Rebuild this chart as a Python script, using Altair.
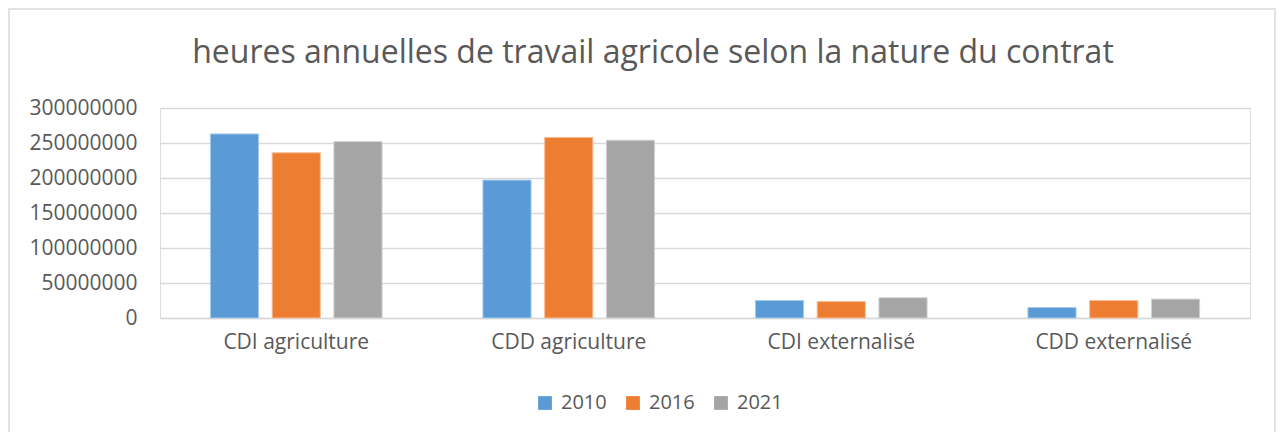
import altair as alt
import pandas as pd

categories = ["CDI agriculture", "CDD agriculture", "CDI externalisé", "CDD externalisé"]
years = ["2010", "2016", "2021"]
values_2010 = [263000000, 197000000, 25000000, 15000000]
values_2016 = [236000000, 258000000, 23500000, 25000000]
values_2021 = [252000000, 254000000, 29000000, 27000000]
colors = ["#5B9BD5", "#ED7D31", "#A5A5A5"]

rows = []
for y, vals in zip(years, [values_2010, values_2016, values_2021]):
    for c, v in zip(categories, vals):
        rows.append({"cat": c, "year": y, "value": v})
df = pd.DataFrame(rows)

FONT = "Open Sans"
TXT = "#595959"

bars = alt.Chart(df).mark_bar(strokeWidth=1).encode(
    x=alt.X("cat:N", sort=categories, title=None,
            scale=alt.Scale(paddingInner=0.37, paddingOuter=0.185),
            axis=alt.Axis(labelAngle=0, ticks=False, domainColor="#D9D9D9", domainWidth=1.5,
                          labelPadding=13, labelFontSize=21, labelColor=TXT, labelFont=FONT)),
    xOffset=alt.XOffset("year:N", sort=years, scale=alt.Scale(paddingInner=0.22, paddingOuter=0)),
    y=alt.Y("value:Q", title=None,
            scale=alt.Scale(domain=[0, 300000000], nice=False),
            axis=alt.Axis(values=[0, 50000000, 100000000, 150000000, 200000000, 250000000, 300000000],
                          format="d", ticks=False, domain=False, labelPadding=23,
                          labelFontSize=21, labelColor=TXT, labelFont=FONT,
                          gridColor="#D9D9D9", gridWidth=1.5)),
    color=alt.Color("year:N", sort=years, scale=alt.Scale(domain=years, range=colors),
                    legend=alt.Legend(title=None, orient="none", direction="horizontal",
                                      legendX=375, legendY=285, symbolType="square", symbolSize=190,
                                      symbolStrokeWidth=0, labelFontSize=20, labelColor=TXT, labelFont=FONT,
                                      columnPadding=16, labelOffset=6)),
    stroke=alt.Stroke("year:N", sort=years, scale=alt.Scale(domain=years, range=["#A9CBEA", "#F6BD98", "#D2D2D2"]), legend=None),
)

border = alt.Chart(pd.DataFrame({"a": [0]})).mark_rect(fill=None, stroke="#D9D9D9", strokeWidth=1.5, clip=False).encode(
    x=alt.value(-151), x2=alt.value(1115), y=alt.value(-99), y2=alt.value(330)
)

chart = alt.layer(border, bars).properties(
    width=1090, height=210,
    title=alt.Title("heures annuelles de travail agricole selon la nature du contrat",
                    anchor="middle", frame="group", dx=-52, offset=-62, fontSize=32, font=FONT,
                    fontWeight="normal", color=TXT),
    autosize=alt.AutoSizeParams(type="none"),
    padding={"left": 152, "top": 100, "right": 26, "bottom": 114},
).configure_view(stroke=None).configure(background="white")

chart.save("out.html", embed_options={"renderer": "svg", "actions": False})
